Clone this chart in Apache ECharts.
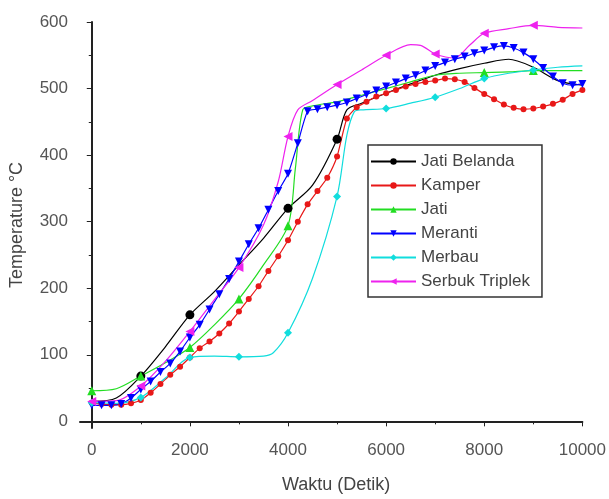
<!DOCTYPE html>
<html>
<head>
<meta charset="utf-8">
<script src="https://cdn.jsdelivr.net/npm/echarts@6/dist/echarts.min.js"></script>
<style>
  html, body { margin: 0; padding: 0; background: #fff; }
  #chart { width: 609px; height: 499px; }
</style>
</head>
<body>
<div id="chart"></div>
<script>
// time grid of the dense series (s)
var denseTime = [0, 200, 400, 600, 800, 1000, 1200, 1400, 1600, 1800, 2000, 2200, 2400, 2600, 2800,
  3000, 3200, 3400, 3600, 3800, 4000, 4200, 4400, 4600, 4800, 5000, 5200, 5400, 5600, 5800,
  6000, 6200, 6400, 6600, 6800, 7000, 7200, 7400, 7600, 7800, 8000, 8200, 8400, 8600, 8800,
  9000, 9200, 9400, 9600, 9800, 10000];

var kamperTemp = [28, 26, 25, 25, 27, 32, 43, 56, 70, 82, 96, 110, 120, 132, 147,
  165, 184, 203, 226, 248, 272, 300, 326, 346, 366, 398, 455, 472, 480, 488,
  493, 498, 503, 507, 510, 512, 515, 514, 510, 501, 492, 484, 476, 471, 469,
  470, 473, 477, 483, 492, 498];

var merantiTemp = [24, 24, 24, 26, 35, 48, 60, 74, 87, 105, 126, 145, 168, 191, 214,
  240, 266, 290, 318, 346, 372, 418, 466, 469, 472, 475, 479, 485, 491, 497,
  503, 509, 515, 520, 527, 534, 539, 544, 548, 553, 557, 562, 564, 561, 554,
  544, 531, 518, 508, 505, 507];

var jatiBelandaTime = [0, 500, 1000, 1500, 2000, 2500, 3000, 3500, 4000, 4500, 5000, 5200, 5500,
  6000, 6500, 7000, 7500, 8000, 8500, 9000, 9500, 10000];
var jatiBelandaTemp = [30, 35, 68, 112, 160, 195, 235, 275, 320, 355, 424, 468, 478,
  493, 507, 520, 530, 538, 544, 532, 512, 505];
var jatiBelandaMarks = [1000, 2000, 4000, 5000];

var jatiTime = [0, 500, 1000, 1500, 2000, 2500, 3000, 3500, 4000, 4150, 4300, 4500, 5000,
  5500, 6000, 6500, 7000, 7500, 8000, 8500, 9000, 9500, 10000];
var jatiTemp = [46, 49, 68, 88, 111, 145, 184, 235, 294, 380, 468, 474, 480,
  490, 500, 510, 520, 523, 524, 525, 527, 527, 527];
var jatiMarks = [0, 1000, 2000, 3000, 4000, 8000, 9000];

var merbauTime = [0, 500, 1000, 1500, 2000, 2500, 3000, 3500, 3700, 4000, 4500, 5000, 5200,
  5350, 5500, 6000, 6500, 7000, 7500, 8000, 8500, 9000, 9500, 10000];
var merbauTemp = [28, 27, 36, 65, 96, 98, 97, 98, 103, 133, 215, 338, 430,
  465, 468, 470, 478, 487, 500, 515, 523, 528, 532, 534];
var merbauMarks = [0, 1000, 2000, 3000, 4000, 5000, 6000, 7000, 8000, 9000];

var triplekTime = [0, 500, 1000, 1500, 2000, 2500, 3000, 3500, 3800, 4000, 4200, 4500, 5000,
  5500, 6000, 6500, 6700, 7000, 7400, 7700, 8000, 8500, 9000, 9500, 10000];
var triplekTemp = [30, 31, 53, 90, 135, 183, 231, 295, 360, 428, 468, 482, 506,
  528, 550, 566, 565, 552, 546, 565, 583, 590, 595, 592, 591];
var triplekMarks = [0, 1000, 2000, 3000, 4000, 5000, 6000, 7000, 8000, 9000];

var xMajor = [0, 2000, 4000, 6000, 8000, 10000];
var xMinor = [1000, 3000, 5000, 7000, 9000];
var yMajor = [0, 100, 200, 300, 400, 500, 600];
var yMinor = [50, 150, 250, 350, 450, 550];

// marker only where listed in marks, other points just shape the line
function pts(times, temps, marks) {
  return times.map(function (t, i) {
    var item = { value: [t, temps[i]] };
    if (marks && marks.indexOf(t) < 0) item.symbol = 'none';
    return item;
  });
}

var font = 'Liberation Sans';
var chart = echarts.init(document.getElementById('chart'), null, { renderer: 'canvas' });

function mkSeries(name, color, data, symbol, size, rotate, smooth) {
  return {
    name: name,
    type: 'line',
    data: data,
    symbol: symbol,
    symbolSize: size,
    symbolRotate: rotate || 0,
    smooth: smooth,
    lineStyle: { color: color, width: 1.2 },
    itemStyle: { color: color },
    animation: false
  };
}

var option = {
  backgroundColor: '#fff',
  grid: { left: 80, right: 25, top: 22, bottom: 60 },
  legend: {
    orient: 'vertical',
    left: 368,
    top: 145,
    padding: [8, 12, 7, 2],
    itemGap: 7,
    itemWidth: 45,
    itemHeight: 8,
    borderColor: '#333',
    borderWidth: 1.5,
    backgroundColor: '#fff',
    textStyle: { fontFamily: font, fontSize: 17, color: '#444' },
    data: ['Jati Belanda', 'Kamper', 'Jati', 'Meranti', 'Merbau', 'Serbuk Triplek']
  },
  xAxis: [{
    type: 'value',
    min: -240,
    max: 10000,
    name: 'Waktu (Detik)',
    nameLocation: 'middle',
    nameGap: 48,
    nameTextStyle: { fontFamily: font, fontSize: 18, color: '#444', padding: [0, 0, 0, 10] },
    axisLine: { lineStyle: { color: '#222', width: 2 } },
    axisTick: { customValues: xMajor, length: 5, lineStyle: { color: '#222' } },
    axisLabel: {
      customValues: xMajor, fontFamily: font, fontSize: 17, color: '#555', margin: 14,
      formatter: function (v) { return String(v); }
    },
    splitLine: { show: false }
  }, {
    type: 'value',
    min: -240,
    max: 10000,
    position: 'bottom',
    axisLine: { show: false },
    axisTick: { customValues: xMinor, length: 3, lineStyle: { color: '#222' } },
    axisLabel: { show: false },
    splitLine: { show: false }
  }],
  yAxis: [{
    type: 'value',
    min: -10,
    max: 600,
    name: 'Temperature °C',
    nameLocation: 'middle',
    nameGap: 54,
    nameTextStyle: { fontFamily: font, fontSize: 18, color: '#444' },
    axisLine: { show: true, lineStyle: { color: '#222', width: 2 } },
    axisTick: { show: true, customValues: yMajor, length: 5, lineStyle: { color: '#222' } },
    axisLabel: { customValues: yMajor, fontFamily: font, fontSize: 17, color: '#555', margin: 12 },
    splitLine: { show: false }
  }, {
    type: 'value',
    min: -10,
    max: 600,
    position: 'left',
    axisLine: { show: false },
    axisTick: { show: true, customValues: yMinor, length: 3, lineStyle: { color: '#222' } },
    axisLabel: { show: false },
    splitLine: { show: false }
  }],
  series: [
    mkSeries('Jati Belanda', '#000000', pts(jatiBelandaTime, jatiBelandaTemp, jatiBelandaMarks), 'circle', 9, 0, 0.3),
    mkSeries('Kamper', '#e81818', pts(denseTime, kamperTemp), 'circle', 6, 0, 0.2),
    mkSeries('Jati', '#22dd22', pts(jatiTime, jatiTemp, jatiMarks), 'triangle', 9, 0, 0.3),
    mkSeries('Meranti', '#0000ff', pts(denseTime, merantiTemp), 'triangle', 8, 180, 0.2),
    mkSeries('Merbau', '#11dddd', pts(merbauTime, merbauTemp, merbauMarks), 'diamond', 8, 0, 0.3),
    mkSeries('Serbuk Triplek', '#ee22ee', pts(triplekTime, triplekTemp, triplekMarks), 'triangle', 9, 90, 0.3)
  ]
};

chart.setOption(option);
</script>
</body>
</html>
